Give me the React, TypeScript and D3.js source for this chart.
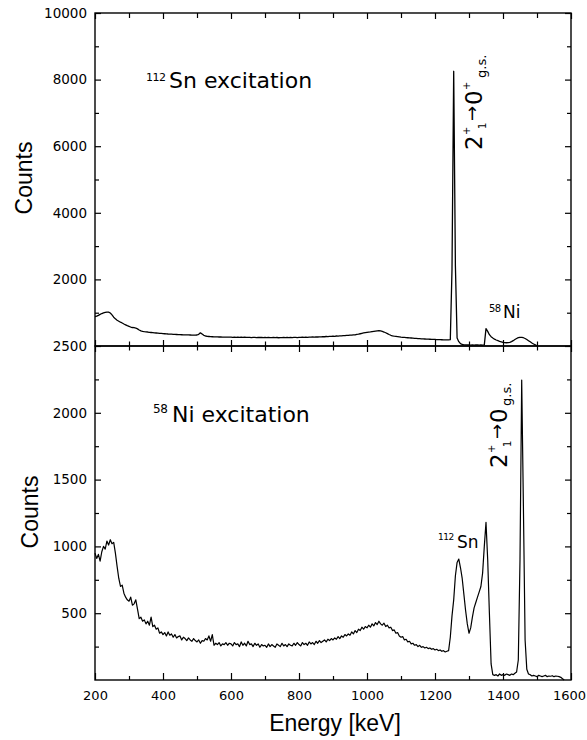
import React, { useEffect, useRef } from 'react'
import * as d3 from 'd3'

// spectra sampled every 5 keV starting at 200 keV
const energyStep = 5
const energyStart = 200

// 112Sn excitation (upper panel), 200 .. 1500 keV
const snCounts = [
  880, 895, 920, 950, 975, 995, 1010, 1020, 1015, 990, 935, 865, 815, 775, 745, 715, 690, 660, 635, 610,
  590, 570, 555, 550, 540, 515, 480, 455, 440, 430, 425, 420, 410, 405, 400, 395, 390, 385, 380, 378,
  372, 368, 365, 360, 357, 354, 350, 348, 345, 342, 340, 338, 336, 335, 333, 332, 330, 329, 328, 327,
  330, 350, 395, 360, 320, 300, 290, 285, 280, 278, 275, 274, 272, 270, 270, 268, 267, 266, 265, 265,
  265, 262, 268, 260, 266, 258, 263, 257, 264, 259, 256, 262, 254, 260, 257, 253, 261, 255, 258, 252,
  256, 250, 258, 253, 249, 257, 251, 255, 248, 254, 252, 257, 250, 255, 253, 258, 252, 256, 259, 254,
  260, 257, 263, 259, 265, 261, 268, 264, 270, 266, 273, 270, 277, 274, 281, 278, 285, 283, 290, 288,
  295, 292, 300, 298, 306, 304, 312, 310, 320, 318, 328, 326, 337, 335, 348, 355, 368, 380, 392, 402,
  410, 418, 424, 432, 440, 448, 455, 460, 452, 438, 420, 398, 372, 345, 322, 305, 295, 287, 280, 273,
  266, 262, 257, 252, 248, 244, 240, 236, 232, 228, 224, 220, 216, 213, 210, 207, 204, 202, 200, 198,
  196, 194, 192, 190, 188, 186, 186, 185, 185, 190, 2300, 8250, 2400, 240, 130, 70, 45, 35, 32, 30,
  30, 28, 30, 29, 31, 30, 28, 30, 29, 35, 520, 440, 340, 280, 240, 205, 180, 160, 140, 125,
  110, 102, 98, 100, 112, 130, 160, 195, 225, 250, 262, 260, 248, 225, 195, 160, 125, 90, 60, 35,
  5,
]

// 58Ni excitation (lower panel), 200 .. 1580 keV
const niCounts = [
  950, 910, 940, 890, 960, 1000, 980, 1040, 1010, 1050, 1020, 1030, 950, 850, 760, 700, 710, 650, 620, 600,
  590, 620, 560, 570, 600, 530, 460, 470, 440, 450, 420, 440, 410, 470, 400, 410, 380, 390, 350, 360,
  340, 355, 330, 360, 335, 345, 320, 340, 315, 325, 330, 300, 320, 310, 295, 315, 300, 290, 310, 295,
  285, 300, 275, 295, 290, 310, 300, 330, 290, 340, 260, 275, 265, 280, 255, 270, 265, 280, 260, 275,
  270, 255, 280, 265, 270, 250, 285, 260, 275, 255, 290, 265, 270, 250, 275, 260, 270, 245, 265, 255,
  260, 245, 270, 250, 265, 255, 245, 270, 260, 250, 275, 255, 265, 250, 270, 260, 255, 275, 260, 280,
  265, 255, 280, 265, 275, 260, 285, 270, 280, 265, 290, 275, 295, 280, 290, 300, 285, 305, 295, 310,
  300, 315, 305, 325, 310, 330, 320, 340, 330, 345, 335, 360, 345, 370, 355, 380, 370, 395, 380, 400,
  390, 410, 395, 420, 405, 430, 415, 440, 420, 410, 425, 400, 410, 390, 395, 370, 375, 350, 355, 330,
  320, 325, 300, 305, 285, 290, 270, 275, 260, 265, 250, 260, 245, 250, 240, 245, 235, 240, 230, 235,
  225, 230, 220, 225, 215, 220, 210, 215, 220, 320, 480, 600, 780, 880, 905, 840, 760, 640, 520, 420,
  350, 390, 470, 540, 580, 620, 660, 700, 800, 1000, 1180, 900, 500, 120, 40, 35, 40, 30, 45, 35,
  40, 35, 45, 40, 35, 45, 40, 50, 60, 150, 900, 2245, 1300, 300, 80, 45, 40, 30, 35, 30,
  25, 35, 30, 25, 30, 35, 25, 30, 28, 32, 25, 30, 28, 25, 20, 10, 0,
]

const xTicks = [200, 400, 600, 800, 1000, 1200, 1400, 1600]
const xMinor = [300, 500, 700, 900, 1100, 1300, 1500]
const snTicks = [2000, 4000, 6000, 8000, 10000]
const snMinor = [1000, 3000, 5000, 7000, 9000]
const niTicks = [500, 1000, 1500, 2000, 2500]
const niMinor = [250, 750, 1250, 1750, 2250]

const LABEL_FONT = 'Liberation Sans, Arial, sans-serif'
const TEXT_FONT = 'DejaVu Sans, sans-serif'

const App = () => {
  const ref = useRef<SVGSVGElement>(null)

  useEffect(() => {
    main()
  }, [])

  const main = () => {
    const svg = d3.select(ref.current)
    svg.selectAll('*').remove()

    const left = 95,
      right = 571,
      top = 13,
      mid = 346,
      bottom = 680

    const x = d3.scaleLinear().domain([200, 1600]).range([left, right])
    const ySn = d3.scaleLinear().domain([0, 10000]).range([mid, top])
    const yNi = d3.scaleLinear().domain([0, 2500]).range([bottom, mid])

    const axis = (gen: any, tx: number, ty: number) => {
      const g = svg.append('g').attr('transform', `translate(${tx},${ty})`).call(gen)
      g.select('.domain').remove()
      g.selectAll('line').attr('stroke', '#000').attr('stroke-width', 1.2)
      g.selectAll('text')
        .attr('font-family', TEXT_FONT)
        .attr('font-size', 13.5)
        .attr('fill', '#000')
      return g
    }
    const noLabel = () => ''

    // horizontal edges
    axis(d3.axisBottom(x).tickValues(xTicks).tickSize(6).tickFormat(noLabel), 0, top)
    axis(d3.axisBottom(x).tickValues(xMinor).tickSize(5).tickFormat(noLabel), 0, top)
    axis(d3.axisTop(x).tickValues(xTicks).tickSize(6).tickFormat(noLabel), 0, mid)
    axis(d3.axisTop(x).tickValues(xMinor).tickSize(4.5).tickFormat(noLabel), 0, mid)
    axis(d3.axisBottom(x).tickValues(xTicks).tickSize(6).tickFormat(noLabel), 0, mid)
    axis(d3.axisBottom(x).tickValues(xMinor).tickSize(4.5).tickFormat(noLabel), 0, mid)
    axis(d3.axisTop(x).tickValues(xTicks).tickSize(7).tickFormat(noLabel), 0, bottom)
    axis(d3.axisTop(x).tickValues(xMinor).tickSize(4).tickFormat(noLabel), 0, bottom)
    const xLabels = axis(
      d3.axisBottom(x).tickValues(xTicks).tickSize(0).tickPadding(11).tickFormat(d3.format('d')),
      0,
      bottom,
    )
    xLabels.selectAll('text').attr('font-size', 13)
    // keep the last label inside the window
    xLabels.selectAll('text').filter((d: any) => d === 1600).attr('dx', -2)

    // vertical edges
    axis(d3.axisLeft(ySn).tickValues(snTicks).tickSize(-6).tickPadding(8).tickFormat(d3.format('d')), left, 0)
    axis(d3.axisLeft(ySn).tickValues(snMinor).tickSize(-4).tickFormat(noLabel), left, 0)
    axis(d3.axisRight(ySn).tickValues(snTicks).tickSize(-6).tickFormat(noLabel), right, 0)
    axis(d3.axisRight(ySn).tickValues(snMinor).tickSize(-4).tickFormat(noLabel), right, 0)
    axis(d3.axisLeft(yNi).tickValues(niTicks).tickSize(-6).tickPadding(8).tickFormat(d3.format('d')), left, 0)
    axis(d3.axisLeft(yNi).tickValues(niMinor).tickSize(-4).tickFormat(noLabel), left, 0)
    axis(d3.axisRight(yNi).tickValues(niTicks).tickSize(-6).tickFormat(noLabel), right, 0)
    axis(d3.axisRight(yNi).tickValues(niMinor).tickSize(-4).tickFormat(noLabel), right, 0)

    // frames
    svg.append('rect')
      .attr('x', left).attr('y', top)
      .attr('width', right - left).attr('height', mid - top)
      .attr('fill', 'none').attr('stroke', '#000').attr('stroke-width', 1.4)
    svg.append('rect')
      .attr('x', left).attr('y', mid)
      .attr('width', right - left).attr('height', bottom - mid)
      .attr('fill', 'none').attr('stroke', '#000').attr('stroke-width', 1.4)

    // spectra
    const snLine = d3.line<number>()
      .x((d, i) => x(energyStart + i * energyStep))
      .y((d) => ySn(d))
    const niLine = d3.line<number>()
      .x((d, i) => x(energyStart + i * energyStep))
      .y((d) => yNi(d))

    svg.append('path')
      .attr('d', snLine(snCounts))
      .attr('fill', 'none').attr('stroke', '#000')
      .attr('stroke-width', 1.3).attr('stroke-linejoin', 'round')
    svg.append('path')
      .attr('d', niLine(niCounts))
      .attr('fill', 'none').attr('stroke', '#000')
      .attr('stroke-width', 1.2).attr('stroke-linejoin', 'round')

    // axis titles
    const title = (tx: number, ty: number, rot: number, txt: string) =>
      svg.append('text')
        .attr('transform', `translate(${tx},${ty}) rotate(${rot})`)
        .attr('text-anchor', 'middle')
        .attr('font-family', LABEL_FONT)
        .attr('font-size', 23)
        .attr('fill', '#000')
        .text(txt)
    title(32, 178, -90, 'Counts')
    title(38, 512, -90, 'Counts')
    title(335, 731, 0, 'Energy [keV]')

    // panel labels with superscripted mass numbers
    const nuclide = (
      mx: number, my: number, mass: string, small: number,
      nx: number, ny: number, name: string, big: number,
    ) => {
      svg.append('text')
        .attr('x', mx).attr('y', my)
        .attr('font-family', TEXT_FONT)
        .attr('font-size', small)
        .attr('letter-spacing', -0.5)
        .attr('fill', '#000')
        .text(mass)
      svg.append('text')
        .attr('x', nx).attr('y', ny)
        .attr('font-family', TEXT_FONT)
        .attr('font-size', big)
        .attr('fill', '#000')
        .text(name)
    }
    nuclide(146, 81, '112', 11, 169, 88, 'Sn excitation', 22)
    nuclide(153, 413, '58', 12, 172, 422, 'Ni excitation', 22)
    nuclide(489, 312, '58', 10, 503, 318, 'Ni', 17)
    nuclide(438, 540, '112', 9, 457, 548, 'Sn', 17)

    // transition labels, written bottom to top
    const transition = (tx: number, ty: number, plusOnZero: boolean, gsAt: number) => {
      const g = svg.append('g').attr('transform', `translate(${tx},${ty}) rotate(-90)`)
      const piece = (px: number, py: number, size: number, txt: string) =>
        g.append('text')
          .attr('x', px).attr('y', py)
          .attr('font-family', TEXT_FONT)
          .attr('font-size', size)
          .attr('fill', '#000')
          .text(txt)
      piece(0, 0, 23, '2')
      piece(15, -12, 10, '+')
      piece(21, 4, 10, '1')
      piece(29, -4, 18, '\u2192')
      piece(45, 0, 23, '0')
      if (plusOnZero) piece(60, -12, 10, '+')
      piece(gsAt, 4, 13, 'g.s.')
    }
    transition(482, 150, true, 72)
    transition(507, 468, false, 62)
  }

  return (
    <div>
      <svg
        ref={ref}
        width={587}
        height={740}
        style={{ position: 'absolute', left: 0, top: 0, background: '#fff' }}
      ></svg>
    </div>
  )
}

export default App
